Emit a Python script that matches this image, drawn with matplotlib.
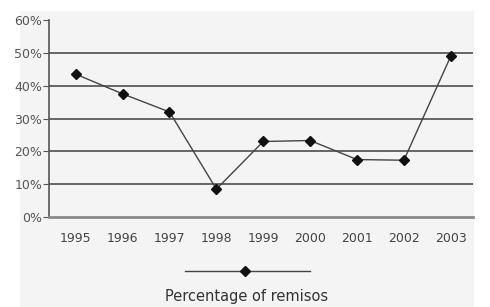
import matplotlib.pyplot as plt
from matplotlib.lines import Line2D
from matplotlib.patches import Rectangle

years = ['1995', '1996', '1997', '1998', '1999', '2000', '2001', '2002', '2003']
remisos = [43.5, 37.5, 32, 8.5, 23, 23.3, 17.5, 17.3, 49]
yticks = [0, 10, 20, 30, 40, 50, 60]
label = 'Percentage of remisos'

bg = '#f4f4f4'
fig = plt.figure(figsize=(4.9, 3.07), dpi=100, facecolor='white')
fig.patches.append(Rectangle((20 / 490, 0), 454 / 490, 1 - 11 / 307,
                             transform=fig.transFigure, facecolor=bg,
                             edgecolor='none', zorder=-5))
ax = fig.add_axes([0.1, 0.293, 0.865, 0.642])
ax.set_facecolor(bg)

x = list(range(len(years)))
ax.plot(x, remisos, color='#444444', lw=1.0, marker='D', ms=5.5,
        mfc='#111111', mec='#111111', zorder=3)

for v in yticks[1:-1]:
    ax.axhline(v, color='#666666', lw=1.4, zorder=1)

ax.set_ylim(0, 60)
ax.set_xlim(-0.57, 8.47)
ax.set_yticks(yticks)
ax.set_yticklabels([f'{v}%' for v in yticks])
ax.set_xticks(x)
ax.set_xticklabels(years)

for s in ['top', 'right']:
    ax.spines[s].set_visible(False)
ax.spines['left'].set_color('#555555')
ax.spines['left'].set_linewidth(1.2)
ax.spines['bottom'].set_color('#8a8a8a')
ax.spines['bottom'].set_linewidth(2)

ax.tick_params(axis='y', length=4, color='#555555', labelsize=9,
               labelcolor='#555555', pad=1)
ax.tick_params(axis='x', length=0, labelsize=9, labelcolor='#444444', pad=11)

# legend drawn below the axes
fig.add_artist(Line2D([185 / 490, 310 / 490], [1 - 271 / 307] * 2,
                      transform=fig.transFigure, color='#444444', lw=1.0))
fig.add_artist(Line2D([245 / 490], [1 - 271 / 307], transform=fig.transFigure,
                      marker='D', ms=5.5, color='#111111', lw=0))
fig.text(247 / 490, 1 - 296 / 307, label, ha='center', va='center',
         fontsize=10.5, color='#333333')

fig.savefig('out.png', dpi=100, facecolor='white')
